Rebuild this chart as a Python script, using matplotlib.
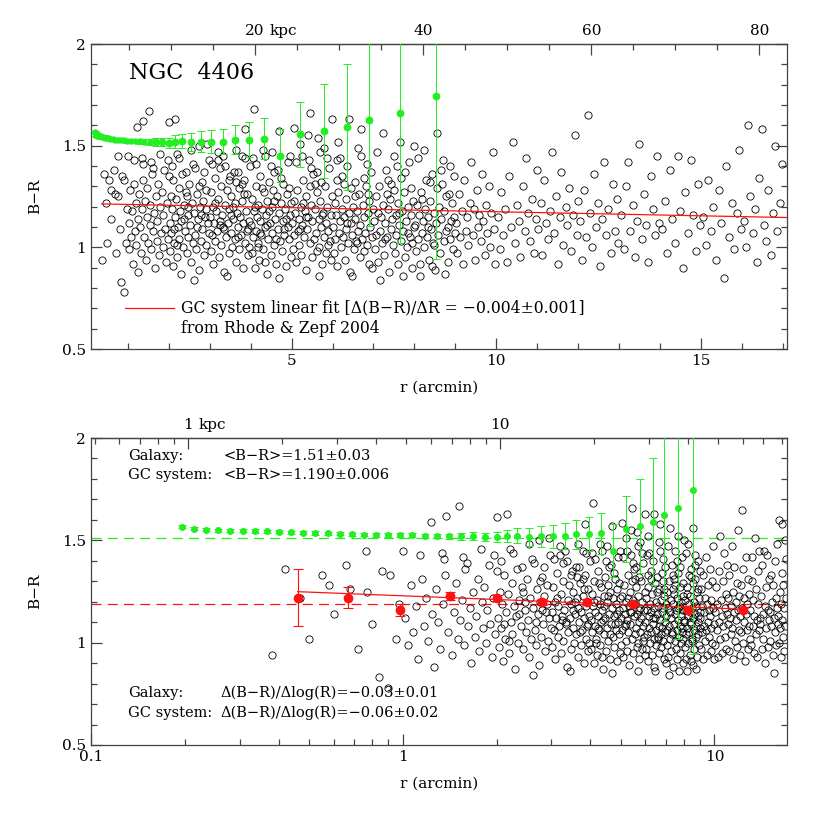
import math
import matplotlib
matplotlib.use("Agg")
import matplotlib.pyplot as plt
from matplotlib.ticker import MultipleLocator, FixedLocator, NullFormatter, FixedFormatter, LogLocator

plt.rcParams['font.family'] = ['DejaVu Serif']
plt.rcParams['axes.unicode_minus'] = True

# ---------------- data ----------------
KPC_PER_ARCMIN = 4.87

# galaxy colour profile (green)
gal_r = [0.196, 0.214, 0.234, 0.256, 0.280, 0.307, 0.335, 0.367, 0.401, 0.439, 0.480, 0.525,
         0.574, 0.628, 0.687, 0.751, 0.822, 0.899, 0.983, 1.075, 1.176, 1.286, 1.406, 1.538,
         1.68, 1.84, 2.00, 2.16, 2.33, 2.54, 2.78, 3.04, 3.32, 3.61, 3.96, 4.33, 4.72, 5.21,
         5.79, 6.35, 6.90, 7.65, 8.53]
gal_v = [1.566, 1.557, 1.552, 1.549, 1.548, 1.547, 1.546, 1.544, 1.542, 1.540, 1.538, 1.536,
         1.534, 1.532, 1.530, 1.528, 1.527, 1.526, 1.525, 1.524, 1.522, 1.521, 1.520, 1.519,
         1.520, 1.517, 1.515, 1.520, 1.523, 1.517, 1.520, 1.520, 1.520, 1.530, 1.530, 1.535,
         1.450, 1.556, 1.572, 1.590, 1.625, 1.660, 1.745]
gal_err = [0.008, 0.008, 0.008, 0.008, 0.008, 0.008, 0.008, 0.008, 0.008, 0.008, 0.008, 0.008,
           0.008, 0.008, 0.008, 0.008, 0.009, 0.009, 0.010, 0.010, 0.011, 0.012, 0.013, 0.015,
           0.020, 0.020, 0.025, 0.030, 0.035, 0.045, 0.052, 0.057, 0.063, 0.071, 0.084, 0.100,
           0.130, 0.160, 0.230, 0.310, 0.520, 0.640, 0.800]

# GC binned means (red)
gcbin_r = [0.46, 0.67, 0.98, 1.42, 2.0, 2.8, 3.9, 5.5, 8.2, 12.4]
gcbin_v = [1.22, 1.22, 1.16, 1.23, 1.22, 1.20, 1.20, 1.19, 1.16, 1.16]
gcbin_err = [0.14, 0.05, 0.03, 0.02, 0.015, 0.015, 0.012, 0.01, 0.01, 0.012]

# fits / means
gal_mean = 1.51
gc_mean = 1.19
lin_fit_a, lin_fit_b = 1.215, -0.004      # B-R = a + b r (Rhode & Zepf 2004)
log_fit_a, log_fit_b = 1.229, -0.06       # B-R = a + b log r

# individual globular clusters (r [arcmin], B-R)
gc_points = [
 (0.38,0.94),(0.42,1.36),(0.47,1.22),(0.50,1.02),(0.55,1.33),(0.58,1.28),(0.60,1.14),(0.66,1.38),
 (0.68,1.26),(0.72,0.97),(0.76,1.45),(0.77,1.25),(0.80,1.09),(0.84,0.83),(0.86,1.35),(0.90,0.78),
 (0.91,1.33),(0.95,1.02),(0.97,1.19),
 (1.00,1.45),(1.14,1.43),(1.23,1.59),(1.34,1.44),(1.36,1.41),(1.38,1.62),(1.52,1.67),(1.56,1.42),
 (1.61,1.39),(1.78,1.46),(1.97,1.43),
 (1.02,1.12),(1.04,0.99),(1.06,1.28),(1.08,1.05),(1.10,1.18),(1.12,0.92),(1.15,1.31),(1.17,1.08),
 (1.19,1.22),(1.21,1.01),(1.24,1.14),(1.26,0.88),(1.28,1.26),(1.30,1.10),(1.32,0.97),(1.35,1.19),
 (1.37,1.33),(1.40,1.05),(1.42,1.23),(1.44,0.94),(1.46,1.15),(1.48,1.29),(1.50,1.02),(1.53,1.11),
 (1.55,1.21),(1.57,0.99),(1.59,1.36),(1.62,1.08),(1.64,1.17),(1.66,0.90),(1.68,1.25),(1.70,1.03),
 (1.72,1.13),(1.74,1.31),(1.76,0.96),(1.79,1.20),(1.81,1.07),(1.83,1.27),(1.85,1.00),(1.87,1.16),
 (1.89,1.38),(1.91,1.09),(1.93,0.93),(1.95,1.22),(1.98,1.04),
 (2.00,1.35),(2.00,1.615),(2.16,1.63),(2.21,1.46),(2.42,1.37),(2.60,1.41),(2.74,1.50),(2.94,1.51),
 (2.02,1.12),(2.03,0.98),(2.05,1.25),(2.06,1.07),(2.08,1.19),(2.10,0.91),(2.11,1.33),(2.13,1.02),
 (2.15,1.15),(2.17,1.24),(2.19,0.95),(2.22,1.10),(2.24,1.29),(2.25,1.04),(2.27,1.18),(2.29,0.87),
 (2.31,1.13),(2.33,1.36),(2.35,1.00),(2.37,1.21),(2.39,1.08),(2.41,1.27),(2.44,0.97),(2.46,1.16),
 (2.48,1.05),(2.50,1.31),(2.52,1.11),(2.54,0.93),(2.56,1.22),(2.58,1.02),(2.61,1.17),(2.63,1.39),
 (2.65,1.06),(2.67,0.99),(2.69,1.26),(2.71,1.14),(2.73,0.89),(2.76,1.20),(2.78,1.03),(2.80,1.32),
 (2.82,1.09),(2.84,1.23),(2.86,0.96),(2.88,1.15),(2.90,1.28),(2.92,1.01),(2.95,1.12),(2.97,1.43),
 (2.99,1.07),(2.07,1.40),(2.26,1.44),(2.44,1.25),(2.55,1.48),(2.68,1.10),(2.85,1.37),(2.12,1.09),
 (2.36,1.14),(2.62,0.84),(2.79,1.16),(2.91,1.19),(2.47,1.20),(2.20,1.01),(2.75,1.30),
 (3.20,1.43),(3.26,1.39),(3.37,1.40),(3.50,1.35),(3.63,1.32),(3.69,1.37),(3.80,1.45),(3.83,1.26),
 (3.85,1.58),
 (3.01,1.15),(3.02,0.98),(3.04,1.27),(3.06,1.06),(3.07,1.20),(3.09,0.92),(3.11,1.12),(3.12,1.34),
 (3.14,1.03),(3.16,1.18),(3.18,1.08),(3.21,1.24),(3.22,0.95),(3.24,1.13),(3.27,1.30),(3.28,1.01),
 (3.30,1.16),(3.32,1.45),(3.34,1.09),(3.36,0.88),(3.38,1.21),(3.40,1.05),(3.42,1.28),(3.44,1.12),
 (3.46,0.97),(3.48,1.19),(3.51,1.07),(3.53,1.25),(3.55,1.00),(3.57,1.14),(3.59,1.37),(3.61,1.04),
 (3.62,1.22),(3.64,0.93),(3.66,1.17),(3.68,1.10),(3.71,1.29),(3.72,0.99),(3.74,1.15),(3.76,1.06),
 (3.78,1.23),(3.81,0.90),(3.82,1.12),(3.84,1.33),(3.86,1.02),(3.88,1.18),(3.90,1.08),(3.92,1.26),
 (3.94,0.96),(3.96,1.13),(3.98,1.40),(3.05,1.41),(3.19,1.47),(3.33,1.10),(3.47,1.33),(3.58,1.20),
 (3.70,1.05),(3.87,1.44),(3.97,1.00),(3.13,1.22),(3.43,0.86),(3.65,1.48),(3.25,1.11),(3.52,1.16),
 (3.79,1.31),(3.93,1.09),
 (4.05,1.44),(4.07,1.68),(4.30,1.48),(4.35,1.45),(4.50,1.40),(4.58,1.37),(4.68,1.57),(4.97,1.45),
 (4.01,1.11),(4.03,0.97),(4.04,1.24),(4.06,1.05),(4.08,1.18),(4.10,0.90),(4.12,1.30),(4.13,1.08),
 (4.15,1.15),(4.17,1.02),(4.19,1.21),(4.21,0.94),(4.23,1.13),(4.24,1.35),(4.26,1.06),(4.28,1.19),
 (4.31,0.99),(4.33,1.27),(4.34,1.10),(4.37,1.16),(4.39,0.87),(4.41,1.23),(4.43,1.04),(4.45,1.32),
 (4.47,1.12),(4.49,0.96),(4.51,1.20),(4.53,1.07),(4.55,1.28),(4.57,1.01),(4.60,1.14),(4.62,0.92),
 (4.64,1.25),(4.66,1.09),(4.67,1.38),(4.70,1.17),(4.72,1.03),(4.74,1.22),(4.76,0.98),(4.78,1.13),
 (4.80,1.31),(4.82,1.06),(4.84,1.19),(4.86,0.91),(4.88,1.26),(4.90,1.10),(4.92,1.42),(4.94,1.04),
 (4.96,1.16),(4.98,0.95),(4.14,1.41),(4.27,1.29),(4.40,1.11),(4.52,1.47),(4.63,1.04),(4.75,1.34),
 (4.87,1.14),(4.99,1.22),(4.18,1.00),(4.44,1.18),(4.69,0.85),(4.81,1.09),(4.22,1.07),(4.56,1.23),
 (4.93,1.29),(4.11,1.20),(4.36,0.93),
 (5.06,1.585),(5.21,1.51),(5.25,1.45),(5.39,1.55),(5.42,1.43),(5.46,1.66),(5.46,1.30),(5.62,1.37),
 (5.64,1.54),(5.73,1.32),(5.78,1.49),(5.99,1.63),
 (5.01,1.12),(5.03,0.99),(5.05,1.23),(5.07,1.06),(5.09,1.17),(5.11,0.93),(5.13,1.28),(5.15,1.08),
 (5.17,1.14),(5.19,1.01),(5.22,1.20),(5.24,0.96),(5.26,1.11),(5.28,1.33),(5.30,1.05),(5.32,1.18),
 (5.34,0.89),(5.36,1.25),(5.38,1.09),(5.41,1.15),(5.44,1.02),(5.47,1.21),(5.49,0.95),(5.51,1.13),
 (5.53,1.36),(5.55,1.04),(5.57,1.19),(5.59,1.07),(5.61,1.27),(5.63,0.98),(5.66,1.14),(5.68,1.00),
 (5.70,1.23),(5.72,1.10),(5.75,0.92),(5.77,1.17),(5.79,1.05),(5.81,1.30),(5.83,1.12),(5.85,0.97),
 (5.87,1.20),(5.89,1.08),(5.91,1.39),(5.93,1.03),(5.95,1.16),(5.97,0.94),(5.98,1.25),(5.10,1.42),
 (5.29,1.22),(5.48,1.39),(5.67,0.86),(5.86,1.44),(5.20,1.09),(5.58,1.31),(5.74,1.16),(5.90,1.01),
 (5.35,1.15),(5.69,1.47),
 (6.10,1.43),(6.12,1.33),
 (6.01,1.10),(6.03,0.97),(6.05,1.22),(6.07,1.04),(6.09,1.16),(6.11,0.91),(6.14,1.27),(6.16,1.07),
 (6.18,1.13),(6.20,1.00),(6.22,1.19),(6.24,1.35),(6.26,1.05),(6.28,1.15),(6.30,0.94),(6.32,1.24),
 (6.34,1.09),(6.36,1.40),(6.38,1.02),(6.40,1.17),(6.42,0.88),(6.44,1.12),(6.46,1.29),(6.48,1.06),
 (6.50,1.20),(6.52,0.99),(6.54,1.14),(6.56,1.32),(6.58,1.03),(6.60,1.18),(6.62,1.08),(6.64,1.26),
 (6.66,0.95),(6.68,1.11),(6.70,1.45),(6.72,1.04),(6.74,1.21),(6.76,0.98),(6.78,1.15),(6.80,1.07),
 (6.82,1.30),(6.84,1.01),(6.86,1.17),(6.88,0.92),(6.90,1.23),(6.92,1.10),(6.94,1.37),(6.96,1.05),
 (6.98,1.19),(6.13,1.52),(6.27,1.31),(6.41,1.63),(6.55,1.25),(6.69,1.58),(6.83,1.41),(6.97,0.90),
 (6.19,1.44),(6.47,0.86),(6.63,1.49),(6.77,1.34),(6.35,1.12),(6.59,1.02),(6.87,1.26),
 (7.01,1.13),(7.03,0.99),(7.05,1.25),(7.07,1.06),(7.10,1.17),(7.12,0.93),(7.14,1.30),(7.17,1.08),
 (7.19,1.15),(7.21,1.02),(7.24,1.21),(7.26,0.96),(7.28,1.12),(7.31,1.38),(7.33,1.05),(7.35,1.19),
 (7.38,0.88),(7.40,1.24),(7.42,1.09),(7.45,1.14),(7.47,1.01),(7.49,1.28),(7.52,0.97),(7.54,1.16),
 (7.56,1.06),(7.59,1.22),(7.61,0.92),(7.63,1.11),(7.66,1.34),(7.68,1.03),(7.70,1.18),(7.73,1.08),
 (7.75,1.27),(7.77,0.95),(7.80,1.13),(7.82,1.00),(7.84,1.20),(7.87,1.42),(7.89,1.05),(7.91,1.16),
 (7.94,0.90),(7.96,1.23),(7.98,1.10),(7.08,1.47),(7.22,1.56),(7.36,1.33),(7.50,1.45),(7.64,1.52),
 (7.78,1.37),(7.92,1.29),(7.15,0.84),(7.43,1.31),(7.71,0.86),(7.85,1.07),(7.29,1.04),(7.57,1.40),
 (7.99,1.50),(7.62,1.17),(7.34,1.26),(7.93,1.02),
 (8.01,1.11),(8.03,0.98),(8.06,1.21),(8.08,1.04),(8.11,1.16),(8.13,0.92),(8.16,1.27),(8.18,1.07),
 (8.21,1.13),(8.23,1.00),(8.26,1.19),(8.28,1.33),(8.31,1.05),(8.33,1.15),(8.36,0.94),(8.38,1.23),
 (8.41,1.09),(8.43,1.36),(8.46,1.02),(8.48,1.17),(8.51,0.89),(8.53,1.12),(8.56,1.29),(8.58,1.06),
 (8.61,1.20),(8.63,0.97),(8.66,1.14),(8.68,1.31),(8.71,1.03),(8.73,1.18),(8.76,1.08),(8.78,1.25),
 (8.81,0.93),(8.83,1.10),(8.86,1.40),(8.88,1.04),(8.91,1.22),(8.93,0.99),(8.96,1.15),(8.98,1.07),
 (8.09,1.44),(8.24,1.48),(8.39,1.32),(8.54,1.56),(8.69,1.43),(8.84,1.26),(8.97,1.35),(8.14,0.86),
 (8.44,0.91),(8.74,0.87),(8.19,1.24),(8.49,1.01),(8.64,1.38),(8.89,1.13),(8.34,1.10),
 (9.02,1.12),(9.05,0.97),(9.08,1.26),(9.12,1.05),(9.15,1.18),(9.18,0.92),(9.22,1.33),(9.25,1.08),
 (9.28,1.15),(9.32,1.01),(9.35,1.22),(9.38,1.42),(9.42,1.06),(9.45,1.19),(9.48,0.94),(9.52,1.28),
 (9.55,1.10),(9.58,1.16),(9.62,1.03),(9.65,1.36),(9.68,1.13),(9.72,0.96),(9.75,1.21),(9.78,1.07),
 (9.82,1.30),(9.85,1.00),(9.88,1.17),(9.92,1.47),(9.95,1.09),(9.98,0.92),
 (10.03,1.15),(10.08,0.99),(10.12,1.27),(10.17,1.06),(10.22,1.19),(10.27,0.93),(10.31,1.35),
 (10.36,1.10),(10.41,1.52),(10.45,1.02),(10.50,1.21),(10.55,1.13),(10.59,0.95),(10.64,1.30),
 (10.69,1.08),(10.73,1.44),(10.78,1.17),(10.83,1.03),(10.87,1.24),(10.92,0.97),(10.96,1.14),
 (10.99,1.38),
 (11.03,1.09),(11.08,1.22),(11.12,0.96),(11.17,1.33),(11.22,1.12),(11.27,1.04),(11.31,1.18),
 (11.36,1.47),(11.41,1.07),(11.45,1.25),(11.50,0.92),(11.55,1.15),(11.59,1.37),(11.64,1.01),
 (11.69,1.20),(11.73,1.11),(11.78,1.29),(11.83,0.98),(11.87,1.16),(11.92,1.55),(11.96,1.06),
 (11.99,1.23),
 (12.04,1.13),(12.09,0.94),(12.14,1.28),(12.19,1.05),(12.24,1.65),(12.29,1.17),(12.34,1.00),
 (12.39,1.36),(12.44,1.10),(12.49,1.22),(12.54,0.91),(12.59,1.14),(12.64,1.42),(12.69,1.06),
 (12.74,1.19),(12.79,0.97),(12.84,1.31),(12.89,1.08),(12.94,1.24),(12.98,1.02),
 (13.05,1.16),(13.11,0.99),(13.16,1.30),(13.22,1.42),(13.27,1.08),(13.33,1.21),(13.38,0.95),
 (13.44,1.13),(13.49,1.51),(13.55,1.04),(13.60,1.26),(13.66,1.11),(13.71,0.93),(13.77,1.35),
 (13.82,1.19),(13.88,1.06),(13.93,1.45),(13.98,1.12),
 (14.05,1.09),(14.11,1.23),(14.18,0.97),(14.24,1.38),(14.30,1.14),(14.37,1.02),(14.43,1.45),
 (14.49,1.18),(14.56,0.90),(14.62,1.27),(14.68,1.07),(14.75,1.43),(14.81,1.16),(14.87,0.98),
 (14.93,1.31),(14.98,1.11),
 (15.05,1.15),(15.11,1.01),(15.18,1.33),(15.24,1.08),(15.30,1.20),(15.37,0.94),(15.43,1.28),
 (15.49,1.12),(15.56,0.85),(15.62,1.40),(15.68,1.05),(15.75,1.22),(15.81,0.99),(15.87,1.17),
 (15.93,1.48),(15.98,1.09),
 (16.04,1.13),(16.09,1.00),(16.15,1.60),(16.20,1.25),(16.26,1.07),(16.31,1.19),(16.37,0.93),
 (16.42,1.34),(16.48,1.58),(16.53,1.11),(16.59,1.03),(16.64,1.28),(16.70,0.96),(16.75,1.17),
 (16.81,1.50),(16.86,1.08),(16.92,1.22),(16.97,1.41),
]
gc_r = [p[0] for p in gc_points]
gc_v = [p[1] for p in gc_points]

# ---------------- style ----------------
GREEN = '#22ee22'
RED = '#ff1111'
FS = 11
FS_TXT = 10.5
FS_LEG = 11.3

fig = plt.figure(figsize=(8.3, 8.3), dpi=100)
W, H = 830.0, 830.0
ax1 = fig.add_axes([91/W, 1-349/H, 696/W, 305/H])
ax2 = fig.add_axes([91/W, 1-745/H, 696/W, 307/H])

def style(ax):
    for s in ax.spines.values():
        s.set_linewidth(0.9)
        s.set_color('#444444')
    ax.tick_params(which='both', direction='in', top=False, right=True, labelsize=FS,
                   color='#444444', width=0.9)
    ax.tick_params(which='major', length=8)
    ax.tick_params(which='minor', length=4.5)
    ax.set_ylim(0.5, 2.0)
    ax.yaxis.set_major_locator(FixedLocator([0.5, 1.0, 1.5, 2.0]))
    ax.yaxis.set_major_formatter(FixedFormatter(['0.5', '1', '1.5', '2']))
    ax.yaxis.set_minor_locator(MultipleLocator(0.1))
    ax.set_ylabel('B\u2212R', fontsize=FS, labelpad=14)
    ax.set_xlabel('r (arcmin)', fontsize=FS, labelpad=9)

small = [r < 1.65 for r in gal_r]

# ---------------- top panel ----------------
ax1.set_xlim(0.1, 17.1)
style(ax1)
ax1.xaxis.set_major_locator(FixedLocator([5, 10, 15]))
ax1.xaxis.set_major_formatter(FixedFormatter(['5', '10', '15']))
ax1.xaxis.set_minor_locator(MultipleLocator(1))

ax1.plot(gc_r, gc_v, linestyle='none', marker='o', markersize=5.2, markerfacecolor='none',
         markeredgecolor='black', markeredgewidth=0.6, zorder=2)
xl = [0.36, 17.1]
ax1.plot(xl, [lin_fit_a + lin_fit_b * x for x in xl], color=RED, lw=0.9, zorder=3)

for sel, ms in ((True, 3.6), (False, 4.6)):
    rr = [r for r, s in zip(gal_r, small) if s == sel]
    vv = [v for v, s in zip(gal_v, small) if s == sel]
    ee = [e for e, s in zip(gal_err, small) if s == sel]
    ax1.errorbar(rr, vv, yerr=ee, fmt='o', color=GREEN, markersize=ms, elinewidth=0.7,
                 capsize=3, capthick=0.7, zorder=4)

ax1.text(0.054, 0.905, 'NGC  4406', transform=ax1.transAxes, fontsize=16, ha='left', va='center')
leg_y = 0.5 + (349 - 308) / 305 * 1.5
ax1.plot([0.94, 2.12], [leg_y, leg_y], color=RED, lw=0.9)
ax1.text(2.3, leg_y, 'GC system linear fit [\u0394(B\u2212R)/\u0394R = \u22120.004\u00b10.001]',
         fontsize=FS_LEG, ha='left', va='center')
ax1.text(2.3, 0.5 + (349 - 328) / 305 * 1.5, 'from Rhode & Zepf 2004',
         fontsize=FS_LEG, ha='left', va='center')

sec1 = ax1.secondary_xaxis('top', functions=(lambda x: x * KPC_PER_ARCMIN,
                                             lambda k: k / KPC_PER_ARCMIN))
sec1.xaxis.set_major_locator(FixedLocator([20, 40, 60, 80]))
sec1.xaxis.set_major_formatter(FixedFormatter(['20', '40', '60', '80']))
sec1.xaxis.set_minor_locator(MultipleLocator(5))
sec1.tick_params(which='both', direction='in', labelsize=FS, color='#444444', width=0.9, pad=4)
sec1.tick_params(which='major', length=8)
sec1.tick_params(which='minor', length=4.5)
sec1.spines['top'].set_linewidth(0.9)
sec1.spines['top'].set_color('#444444')
ax1.annotate('kpc', xy=(20 / KPC_PER_ARCMIN, 1.0), xycoords=('data', 'axes fraction'),
             xytext=(10.5, 4.4), textcoords='offset points', ha='left', va='bottom', fontsize=FS)

# ---------------- bottom panel ----------------
ax2.set_xscale('log')
ax2.set_xlim(0.1, 17.1)
style(ax2)
ax2.xaxis.set_major_locator(FixedLocator([0.1, 1, 10]))
ax2.xaxis.set_major_formatter(FixedFormatter(['0.1', '1', '10']))
ax2.xaxis.set_minor_locator(LogLocator(base=10, subs=[2, 3, 4, 5, 6, 7, 8, 9]))
ax2.xaxis.set_minor_formatter(NullFormatter())

ax2.axhline(gal_mean, color=GREEN, lw=0.9, dashes=(8, 5), zorder=1)
ax2.axhline(gc_mean, color=RED, lw=0.9, dashes=(8, 5), zorder=1)
ax2.plot(gc_r, gc_v, linestyle='none', marker='o', markersize=5.2, markerfacecolor='none',
         markeredgecolor='black', markeredgewidth=0.6, zorder=2)
ax2.errorbar(gal_r, gal_v, yerr=gal_err, fmt='o', color=GREEN, markersize=4.0, elinewidth=0.7,
             capsize=3, capthick=0.7, zorder=4)
fx = [gcbin_r[0], gcbin_r[-1]]
ax2.plot(fx, [log_fit_a + log_fit_b * math.log10(x) for x in fx], color=RED, lw=0.9, zorder=3)
ax2.errorbar(gcbin_r, gcbin_v, yerr=gcbin_err, fmt='o', color=RED, markersize=6, elinewidth=0.8,
             capsize=3.5, capthick=0.8, zorder=5)

def atxt(xpx, ypx, s):
    fx_ = (xpx - 91) / 696.0
    fy_ = (745 - ypx) / 307.0
    ax2.text(fx_, fy_, s, transform=ax2.transAxes, fontsize=FS_TXT, ha='left', va='center')

atxt(128, 456, 'Galaxy:')
atxt(223, 456, '<B\u2212R>=1.51\u00b10.03')
atxt(128, 475, 'GC system:')
atxt(223, 475, '<B\u2212R>=1.190\u00b10.006')
atxt(128, 693, 'Galaxy:')
atxt(220, 693, '\u0394(B\u2212R)/\u0394log(R)=\u22120.03\u00b10.01')
atxt(128, 713, 'GC system:')
atxt(220, 713, '\u0394(B\u2212R)/\u0394log(R)=\u22120.06\u00b10.02')

sec2 = ax2.secondary_xaxis('top', functions=(lambda x: x * KPC_PER_ARCMIN,
                                             lambda k: k / KPC_PER_ARCMIN))
sec2.set_xscale('log')
sec2.xaxis.set_major_locator(FixedLocator([1, 10]))
sec2.xaxis.set_major_formatter(FixedFormatter(['1', '10']))
sec2.xaxis.set_minor_locator(FixedLocator([0.5, 0.6, 0.7, 0.8, 0.9, 2, 3, 4, 5, 6, 7, 8, 9,
                                           20, 30, 40, 50, 60, 70, 80]))
sec2.xaxis.set_minor_formatter(NullFormatter())
sec2.tick_params(which='both', direction='in', labelsize=FS, color='#444444', width=0.9, pad=4)
sec2.tick_params(which='major', length=8)
sec2.tick_params(which='minor', length=4.5)
sec2.spines['top'].set_linewidth(0.9)
sec2.spines['top'].set_color('#444444')
ax2.annotate('kpc', xy=(1 / KPC_PER_ARCMIN, 1.0), xycoords=('data', 'axes fraction'),
             xytext=(7.5, 4.4), textcoords='offset points', ha='left', va='bottom', fontsize=FS)

fig.savefig('out.png', dpi=100)
